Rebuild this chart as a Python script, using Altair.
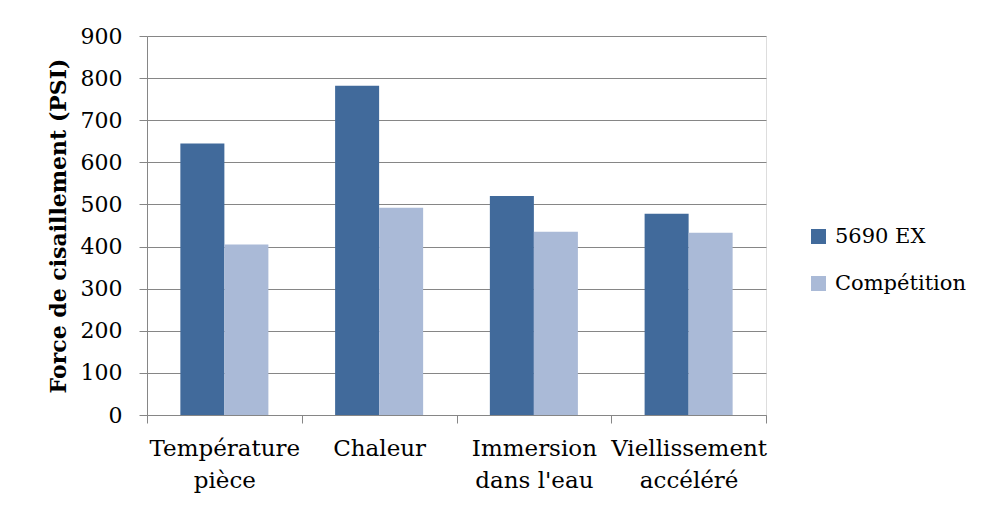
import altair as alt
import pandas as pd

categories = ["Température\npièce", "Chaleur", "Immersion\ndans l'eau", "Viellissement\naccéléré"]
series = ["5690 EX", "Compétition"]
values_5690 = [645, 782, 520, 478]
values_comp = [405, 492, 435, 433]
colors = ["#416A9B", "#AABAD7"]
y_title = "Force de cisaillement  (PSI)"

rows = []
for c, a, b in zip(categories, values_5690, values_comp):
    rows.append({"cat": c, "series": series[0], "val": a})
    rows.append({"cat": c, "series": series[1], "val": b})
df = pd.DataFrame(rows)

FONT = "DejaVu Serif"
GRID = "#868686"

chart = alt.Chart(df).mark_bar().encode(
    x=alt.X("cat:N", sort=categories, title=None,
            scale=alt.Scale(paddingInner=0, paddingOuter=0),
            axis=alt.Axis(labelExpr="isValid(datum.value) ? split(datum.value, '\\n') : ''",
                          labelAngle=0,
                          tickBand="extent", tickSize=8, tickColor=GRID,
                          domainColor=GRID, labelFont=FONT, labelFontSize=23,
                          labelColor="#000000", labelPadding=14, labelLineHeight=32,
                          labelBaseline="top")),
    xOffset=alt.XOffset("series:N", sort=series,
                        scale=alt.Scale(paddingInner=0, paddingOuter=0.758)),
    y=alt.Y("val:Q", title=y_title,
            scale=alt.Scale(domain=[0, 900], nice=False),
            axis=alt.Axis(values=list(range(0, 901, 100)), grid=True, gridColor=GRID,
                          gridWidth=1, domainColor=GRID, tickColor=GRID, tickSize=8,
                          labelFont=FONT, labelFontSize=22, labelColor="#000000",
                          labelPadding=17, titleFont=FONT, titleFontSize=22,
                          titleFontWeight="bold", titleColor="#000000", titlePadding=10)),
    color=alt.Color("series:N", sort=series,
                    scale=alt.Scale(domain=series, range=colors),
                    legend=alt.Legend(title=None, orient="none", legendX=661, legendY=190,
                                      symbolType="square", symbolSize=225,
                                      symbolStrokeWidth=0, labelFont=FONT,
                                      labelFontSize=21, labelColor="#000000",
                                      labelOffset=6, rowPadding=25)),
).properties(
    width=619, height=379,
    autosize=alt.AutoSizeParams(type="none"),
    padding={"left": 139, "top": 28, "right": 200, "bottom": 85},
).configure_view(stroke=None).configure(background="#ffffff")

chart.save("out.html", embed_options={"renderer": "svg", "actions": False})
